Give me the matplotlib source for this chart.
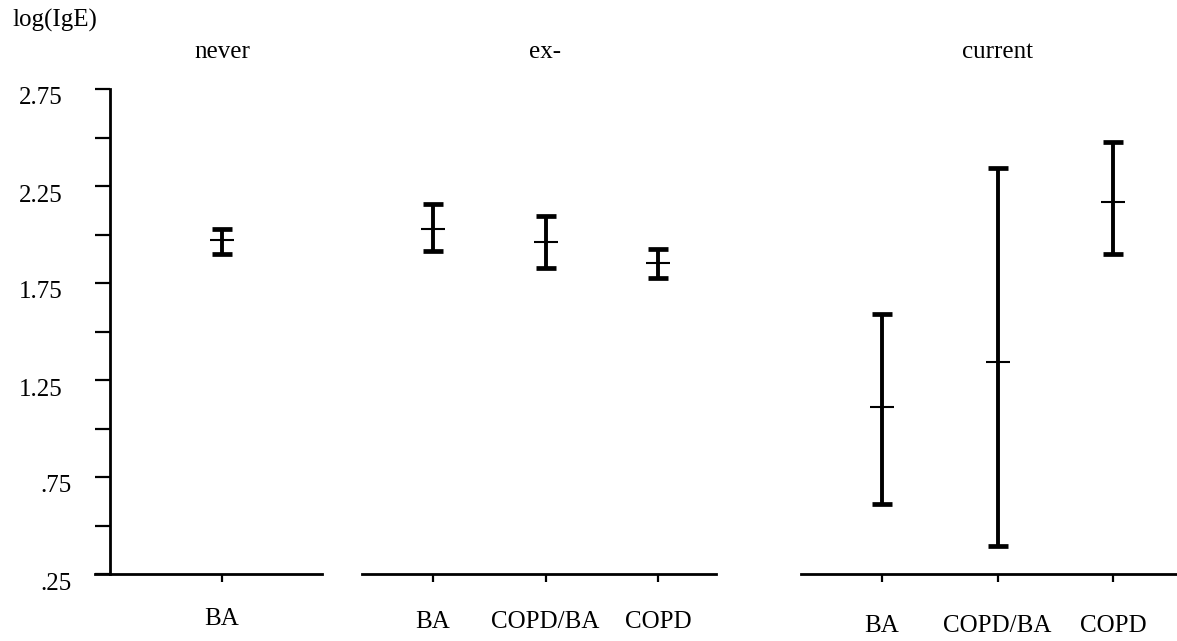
import matplotlib
matplotlib.use("Agg")
import matplotlib.pyplot as plt
import matplotlib.transforms as mtransforms

plt.rcParams['font.family'] = ['Liberation Serif', 'DejaVu Serif']

# ---- data ----
panel_titles = ["never", "ex-", "current"]
never_cats = ["BA"]
never_mean = [1.972]
never_lo = [1.899]
never_hi = [2.028]

ex_cats = ["BA", "COPD/BA", "COPD"]
ex_mean = [2.028, 1.961, 1.853]
ex_lo = [1.915, 1.827, 1.776]
ex_hi = [2.157, 2.095, 1.925]

cur_cats = ["BA", "COPD/BA", "COPD"]
cur_mean = [1.111, 1.343, 2.167]
cur_lo = [0.611, 0.394, 1.899]
cur_hi = [1.590, 2.343, 2.477]

ytick_major = [0.25, 0.75, 1.25, 1.75, 2.25, 2.75]
ytick_labels = [".25", ".75", "1.25", "1.75", "2.25", "2.75"]
ytick_minor = [0.5, 1.0, 1.5, 2.0, 2.5]
y_label = "log(IgE)"

W, H = 1177, 641
fig = plt.figure(figsize=(W / 100, H / 100), dpi=100)

FS = 18
ybot_px, ytop_px = 574, 89


def add_panel(x0, x1, xlim):
    ax = fig.add_axes([x0 / W, (H - ybot_px) / H, (x1 - x0) / W, (ybot_px - ytop_px) / H])
    ax.set_ylim(0.25, 2.75)
    ax.set_xlim(*xlim)
    for s in ["top", "right"]:
        ax.spines[s].set_visible(False)
    ax.spines["bottom"].set_linewidth(2.0)
    ax.tick_params(axis="x", direction="out", length=6, width=1.6, labelsize=FS)
    return ax


def draw_bars(ax, cats, mean, lo, hi, pad):
    xs = list(range(len(cats)))
    yerr = [[m - l for m, l in zip(mean, lo)], [h - m for m, h in zip(mean, hi)]]
    ax.errorbar(xs, mean, yerr=yerr, fmt="none", ecolor="black", elinewidth=2.8,
                capsize=7.5, capthick=3.4)
    ax.plot(xs, mean, linestyle="none", marker="_", markersize=17, markeredgewidth=1.5,
            color="black")
    ax.set_xticks(xs)
    ax.set_xticklabels(cats)
    ax.tick_params(axis="x", pad=pad)


# panel 1
ax1 = add_panel(95, 322, (-(222 - 95) / 227, (322 - 222) / 227))
ax1.spines["left"].set_position(("axes", 15 / 227))
ax1.spines["left"].set_linewidth(2.0)
ax1.set_yticks(ytick_major)
ax1.set_yticks(ytick_minor, minor=True)
ax1.set_yticklabels([])
ax1.tick_params(axis="y", which="both", direction="out", length=11, width=1.6)
draw_bars(ax1, never_cats, never_mean, never_lo, never_hi, pad=18.3)

for v, lab in zip(ytick_major, ytick_labels):
    right_px = 72 if lab.startswith(".") else 63
    tr = mtransforms.blended_transform_factory(fig.transFigure, ax1.transData)
    tr = tr + mtransforms.ScaledTranslation(0, -9.5 / 100, fig.dpi_scale_trans)
    ax1.text(right_px / W, v, lab, transform=tr, ha="right", va="center", fontsize=FS)

# panel 2
ax2 = add_panel(362, 716, (-(433 - 362) / 112.5, (716 - 433) / 112.5))
ax2.spines["left"].set_visible(False)
ax2.set_yticks([])
draw_bars(ax2, ex_cats, ex_mean, ex_lo, ex_hi, pad=20.6)

# panel 3
ax3 = add_panel(801, 1177, (-(882 - 801) / 115.5, (1177 - 882) / 115.5))
ax3.spines["left"].set_visible(False)
ax3.set_yticks([])
draw_bars(ax3, cur_cats, cur_mean, cur_lo, cur_hi, pad=23.5)

for ax, title, cx in [(ax1, panel_titles[0], 0), (ax2, panel_titles[1], 1), (ax3, panel_titles[2], 1)]:
    tr = mtransforms.blended_transform_factory(ax.transData, ax.transAxes)
    ax.text(cx, (ybot_px - 58) / (ybot_px - ytop_px), title, transform=tr,
            ha="center", va="baseline", fontsize=FS)

fig.text(12 / W, (H - 27) / H, y_label, ha="left", va="baseline", fontsize=FS)

fig.savefig("out.png", dpi=100)
